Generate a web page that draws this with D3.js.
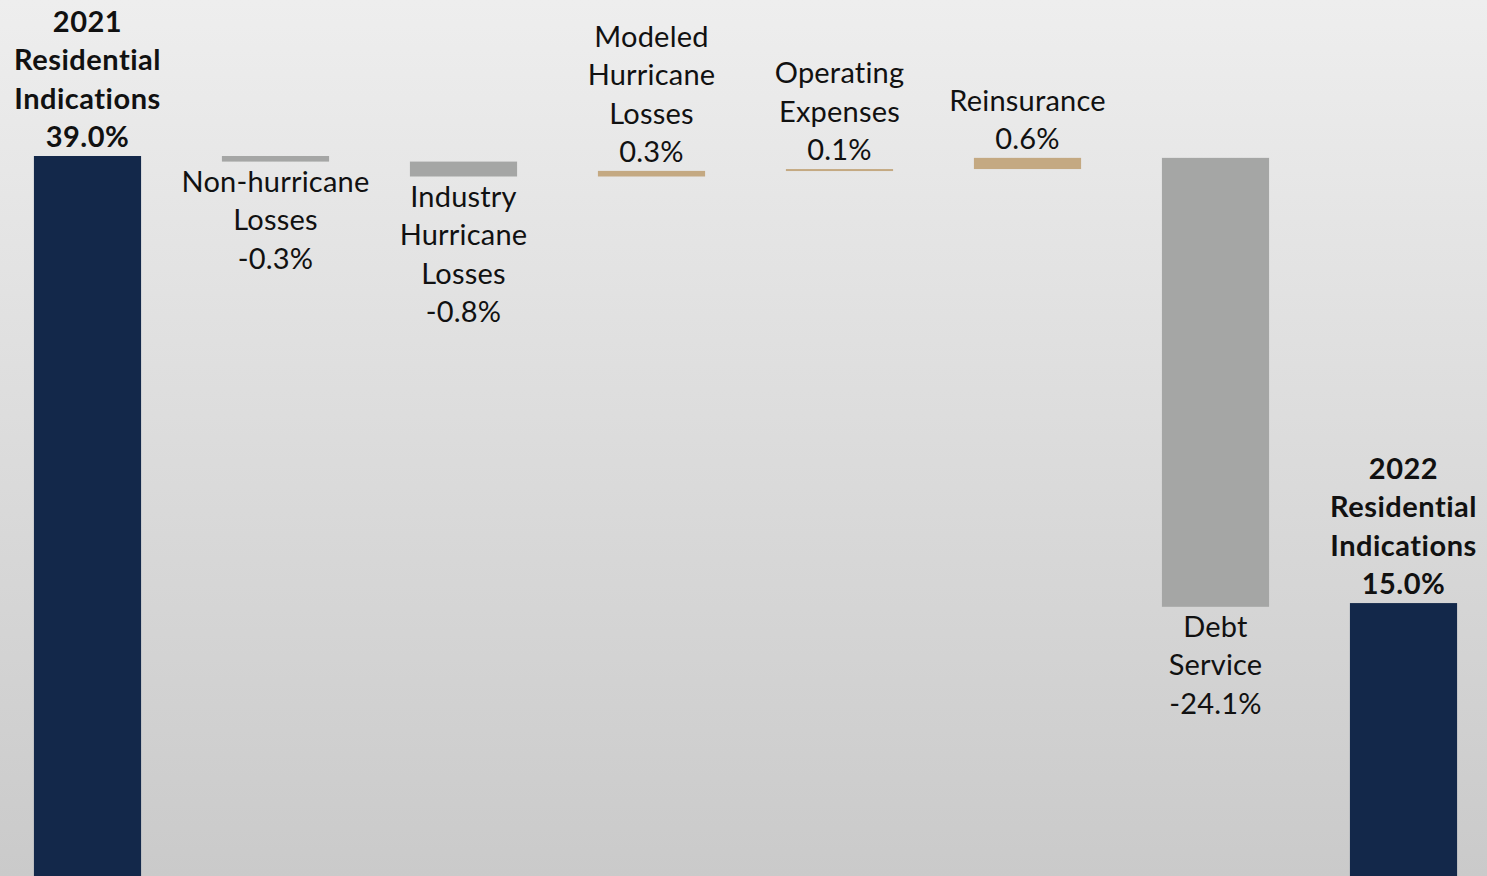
<!DOCTYPE html>
<html><head><meta charset="utf-8">
<script src="https://cdn.jsdelivr.net/npm/d3@7"></script>
<style>html,body{margin:0;padding:0;overflow:hidden;}svg{display:block;}</style>
</head><body>
<svg id="chart" width="1487" height="876"></svg>
<script>
const categories = ["2021 Residential Indications","Non-hurricane Losses","Industry Hurricane Losses","Modeled Hurricane Losses","Operating Expenses","Reinsurance","Debt Service","2022 Residential Indications"];
const labelLines = [["2021","Residential","Indications"],["Non-hurricane","Losses"],["Industry","Hurricane","Losses"],["Modeled","Hurricane","Losses"],["Operating","Expenses"],["Reinsurance"],["Debt","Service"],["2022","Residential","Indications"]];
const values = [39.0,-0.3,-0.8,0.3,0.1,0.6,-24.1,15.0];
const kinds = ["total","delta","delta","delta","delta","delta","delta","total"];
const valueLabels = ["39.0%","-0.3%","-0.8%","0.3%","0.1%","0.6%","-24.1%","15.0%"];

const W=1487,H=876;
const svg=d3.select("#chart");
const defs=svg.append("defs");
const grad=defs.append("linearGradient").attr("id","bg").attr("x1",0).attr("y1",0).attr("x2",0).attr("y2",1);
grad.append("stop").attr("offset","0%").attr("stop-color","#eeeeee");
grad.append("stop").attr("offset","100%").attr("stop-color","#cacaca");
svg.append("rect").attr("width",W).attr("height",H).attr("fill","url(#bg)");

const x=d3.scaleBand().domain(categories).range([-6.5,1497.5]).paddingInner(0.43).paddingOuter(0.215);
const y=d3.scaleLinear().domain([0,39]).range([882.5,156]);

let run=0;
const bars=values.map((v,i)=>{
  let y0,y1;
  if(kinds[i]==="total"){y0=0;y1=v;run=v;}
  else{y0=run;y1=run+v;run=y1;}
  return {cat:categories[i],lo:Math.min(y0,y1),hi:Math.max(y0,y1),v,kind:kinds[i],i};
});
const color=d=>d.kind==="total"?"#13284a":(d.v<0?"#a5a6a5":"#c4a982");

svg.selectAll("rect.bar").data(bars).join("rect").attr("class","bar")
  .attr("x",d=>x(d.cat)).attr("width",x.bandwidth())
  .attr("y",d=>y(d.hi)).attr("height",d=>Math.max(2,y(d.lo)-y(d.hi)))
  .attr("fill",color);

const fs=29, lh=38.5;
bars.forEach(d=>{
  const lines=labelLines[d.i].concat([valueLabels[d.i]]);
  const cx=x(d.cat)+x.bandwidth()/2;
  const above = d.kind==="total" || d.v>0;
  const bold = d.kind==="total";
  const g=svg.append("g");
  lines.forEach((t,k)=>{
    let cy;
    if(above){cy=y(d.hi)-19-(lines.length-1-k)*lh;}
    else{cy=Math.max(y(d.lo),y(d.hi)+2)+20+k*lh;}
    g.append("text").attr("x",cx).attr("y",cy).attr("dy","0.35em")
      .attr("text-anchor","middle")
      .attr("font-family","Lato, 'Open Sans', sans-serif")
      .attr("font-size",fs).attr("font-weight",bold?"bold":"normal")
      .attr("letter-spacing",bold?"0.5px":"0.2px")
      .attr("fill","#111").text(t);
  });
});
</script>
</body></html>
